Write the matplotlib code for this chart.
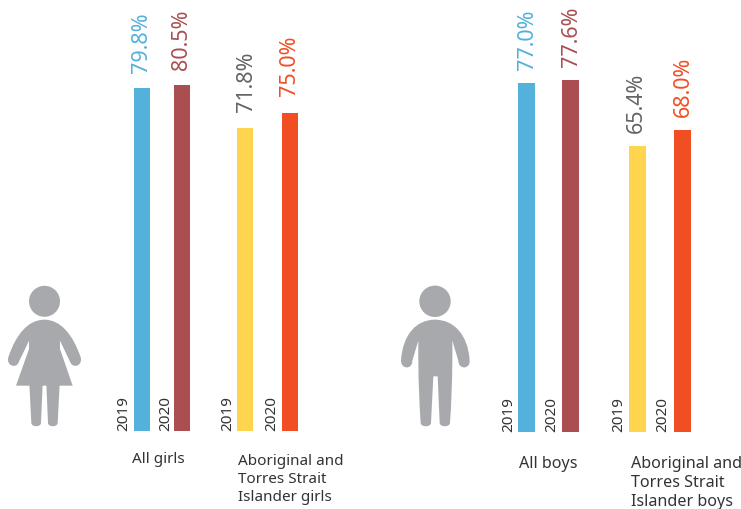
import matplotlib
matplotlib.use('Agg')
import matplotlib.pyplot as plt
from matplotlib.patches import Circle, PathPatch
from matplotlib.path import Path

plt.rcParams['font.family'] = ['Noto Sans', 'DejaVu Sans']

W, H = 741, 510

years = ['2019', '2020']
girls_all = [79.8, 80.5]
girls_atsi = [71.8, 75.0]
boys_all = [77.0, 77.6]
boys_atsi = [65.4, 68.0]
all_colors = ['#54b1db', '#ab4e52']
atsi_colors = ['#ffd54f', '#f24e23']
all_value_colors = ['#54b1db', '#ab4e52']
atsi_value_colors = ['#636466', '#f24e23']
girls_labels = ['All girls', 'Aboriginal and\nTorres Strait\nIslander girls']
boys_labels = ['All boys', 'Aboriginal and\nTorres Strait\nIslander boys']

GREY = '#a7a9ac'
TEXT = '#333336'

fig = plt.figure(figsize=(W / 100, H / 100), dpi=100)


def pair(x0, x1, base, scales, lefts, width, values, colors, value_colors, year_x, value_x, gap):
    # the source does not draw its bars to one scale, so every bar gets its own axes, x is in pixels
    for i, v in enumerate(values):
        ax = fig.add_axes([x0 / W, 1 - base / H, (x1 - x0) / W, base / H])
        ax.set_xlim(x0, x1)
        ax.set_ylim(0, base / scales[i])
        ax.axis('off')
        ax.bar(lefts[i], v, width, align='edge', color=colors[i], linewidth=0)
        ax.annotate(f'{v:.1f}%', (value_x[i], v), xytext=(0, gap), textcoords='offset pixels',
                    rotation=90, ha='center', va='bottom', fontsize=15.5, color=value_colors[i])
        ax.text(year_x[i], 0, years[i], rotation=90, ha='center', va='bottom',
                fontsize=11, color=TEXT)


pair(100, 210, 431.5, [4.29, 4.29], [134, 174], 16, girls_all, all_colors, all_value_colors,
     [124, 166], [142, 182], 16)
pair(210, 370, 431.5, [4.21, 4.24], [237, 282], 16, girls_atsi, atsi_colors, atsi_value_colors,
     [228, 272], [246, 290], 17)
pair(490, 600, 432.5, [4.52, 4.53], [518, 562], 17, boys_all, all_colors, all_value_colors,
     [509, 552], [528, 572], 14)
pair(600, 741, 432.5, [4.37, 4.44], [629, 674], 17, boys_atsi, atsi_colors, atsi_value_colors,
     [619, 663], [636, 683], 14)

# overlay in image pixels for the figures and the captions
ov = fig.add_axes([0, 0, 1, 1])
ov.set_xlim(0, W)
ov.set_ylim(H, 0)
ov.axis('off')
ov.patch.set_alpha(0)

M, C, L = Path.MOVETO, Path.CURVE4, Path.LINETO


def shape(dx, segs):
    verts, codes = [], []
    for pts, code in segs:
        for p in pts:
            verts.append((dx + p[0] / 3, 270 + p[1] / 3))
            codes.append(code)
    ov.add_patch(PathPatch(Path(verts, codes), facecolor=GREY, edgecolor='none'))


# girl
ov.add_patch(Circle((44.5, 302.3), 15.5, facecolor=GREY, edgecolor='none'))
shape(0, [([(133, 152)], M),
          ([(85, 152), (48, 195), (25, 265)], C),
          ([(18, 290), (48, 300), (56, 280)], C),
          ([(87, 215)], L),
          ([(87, 240)], L),
          ([(48, 350)], L),
          ([(218, 350)], L),
          ([(180, 240)], L),
          ([(180, 215)], L),
          ([(211, 280)], L),
          ([(219, 300), (249, 290), (242, 265)], C),
          ([(218, 195), (181, 152), (133, 152)], C)])
shape(0, [([(88, 345)], M), ([(94, 462)], L), ([(95, 475), (122, 475), (123, 462)], C),
          ([(128, 345)], L), ([(88, 345)], L)])
shape(0, [([(139, 345)], M), ([(144, 462)], L), ([(145, 475), (172, 475), (173, 462)], C),
          ([(179, 345)], L), ([(139, 345)], L)])

# boy
ov.add_patch(Circle((435, 302.3), 15.7, facecolor=GREY, edgecolor='none'))
shape(390, [([(135, 152)], M),
            ([(80, 152), (38, 195), (33, 275)], C),
            ([(33, 302), (68, 302), (67, 275)], C),
            ([(85, 215)], L),
            ([(84, 330), (88, 400), (92, 462)], C),
            ([(93, 475), (122, 475), (123, 462)], C),
            ([(130, 322)], L), ([(143, 322)], L),
            ([(149, 462)], L),
            ([(150, 475), (179, 475), (180, 462)], C),
            ([(184, 400), (188, 330), (187, 215)], C),
            ([(205, 275)], L),
            ([(205, 302), (240, 302), (239, 275)], C),
            ([(234, 195), (190, 152), (135, 152)], C)])

# captions
ov.text(132, 460, girls_labels[0], fontsize=11, color=TEXT, va='center', ha='left')
ov.text(238, 479.5, girls_labels[1], fontsize=11, color=TEXT, va='center', ha='left', linespacing=1.26)
ov.text(519, 464, boys_labels[0], fontsize=11.6, color=TEXT, va='center', ha='left')
ov.text(631, 483, boys_labels[1], fontsize=11.6, color=TEXT, va='center', ha='left', linespacing=1.24)

fig.savefig('out.png', dpi=100)
